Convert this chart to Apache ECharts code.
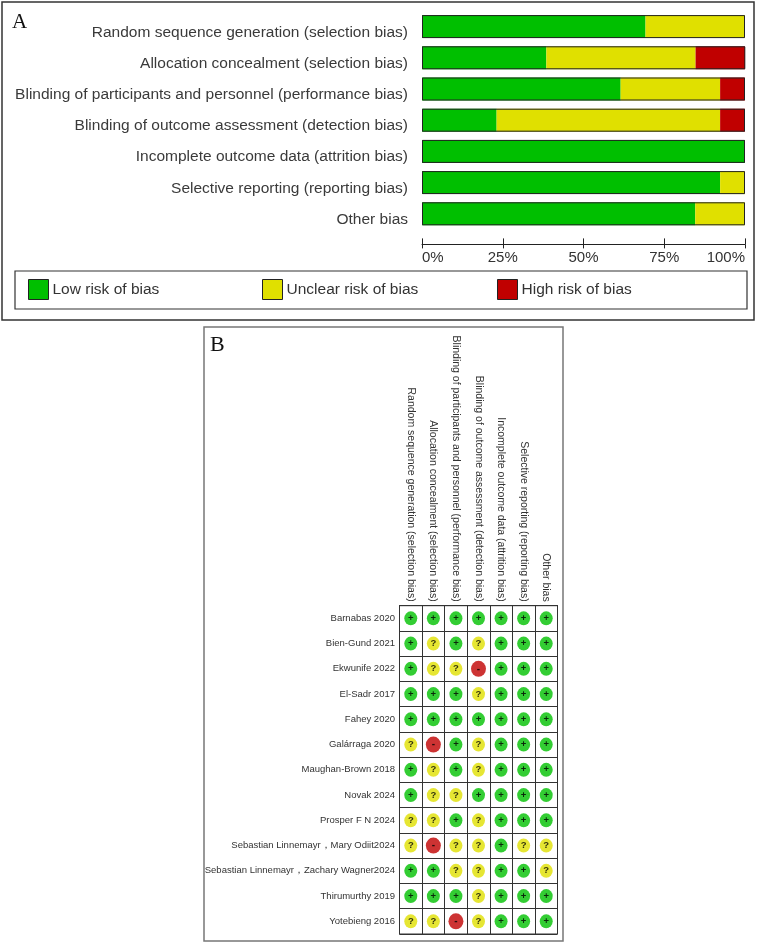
<!DOCTYPE html>
<html>
<head>
<meta charset="utf-8">
<script src="https://cdn.jsdelivr.net/npm/echarts@6/dist/echarts.min.js"></script>
<style>
  html, body { margin: 0; padding: 0; background: #fff; }
  #chart { width: 760px; height: 944px; }
</style>
</head>
<body>
<div id="chart"></div>
<script>
// risk of bias domains (same order in both panels)
const domains = [
  "Random sequence generation (selection bias)",
  "Allocation concealment (selection bias)",
  "Blinding of participants and personnel (performance bias)",
  "Blinding of outcome assessment (detection bias)",
  "Incomplete outcome data (attrition bias)",
  "Selective reporting (reporting bias)",
  "Other bias"
];

// panel A: percent of studies per judgement
const lowPct = [69.2, 38.5, 61.5, 23.1, 100, 92.3, 84.6];
const unclearPct = [30.8, 46.2, 30.8, 69.2, 0, 7.7, 15.4];
const highPct = [0, 15.4, 7.7, 7.7, 0, 0, 0];
const pctTicks = [0, 25, 50, 75, 100];

// panel B: judgement per study, one entry per domain
const studies = [
  "Barnabas 2020",
  "Bien-Gund 2021",
  "Ekwunife 2022",
  "El-Sadr 2017",
  "Fahey 2020",
  "Galárraga 2020",
  "Maughan-Brown 2018",
  "Novak 2024",
  "Prosper F N 2024",
  "Sebastian Linnemayr，Mary Odiit2024",
  "Sebastian Linnemayr，Zachary Wagner2024",
  "Thirumurthy 2019",
  "Yotebieng 2016"
];
const judgements = [
  ["+", "+", "+", "+", "+", "+", "+"],
  ["+", "?", "+", "?", "+", "+", "+"],
  ["+", "?", "?", "-", "+", "+", "+"],
  ["+", "+", "+", "?", "+", "+", "+"],
  ["+", "+", "+", "+", "+", "+", "+"],
  ["?", "-", "+", "?", "+", "+", "+"],
  ["+", "?", "+", "?", "+", "+", "+"],
  ["+", "?", "?", "+", "+", "+", "+"],
  ["?", "?", "+", "?", "+", "+", "+"],
  ["?", "-", "?", "?", "+", "?", "?"],
  ["+", "+", "?", "?", "+", "+", "?"],
  ["+", "+", "+", "?", "+", "+", "+"],
  ["?", "?", "-", "?", "+", "+", "+"]
];

const GREEN = "#00bf00";
const YELLOW = "#e0e000";
const RED = "#c00000";
const FONT = "Liberation Sans, Arial, sans-serif";

function cellsFor(code) {
  const out = [];
  judgements.forEach((row, r) => {
    row.forEach((v, c) => {
      if (v === code) out.push([c, r]);
    });
  });
  return out;
}

const chart = echarts.init(document.getElementById("chart"), null, { renderer: "canvas" });

function dotSeries(name, code, color, size) {
  return {
    name: name,
    type: "scatter",
    xAxisIndex: 2,
    yAxisIndex: 1,
    data: cellsFor(code),
    symbol: "circle",
    symbolSize: size,
    itemStyle: { color: color },
    label: {
      show: true,
      position: "inside",
      formatter: code,
      color: "#000",
      textBorderWidth: 0,
      fontSize: code === "-" ? 10 : 9.5,
      fontWeight: "bold",
      fontFamily: FONT
    },
    silent: true
  };
}

function legendAt(left, name) {
  return {
    left: left,
    top: 279,
    padding: 0,
    data: [name],
    icon: "rect",
    itemWidth: 20,
    itemHeight: 20,
    itemStyle: { borderColor: "#222", borderWidth: 1 },
    textStyle: { fontSize: 15.5, color: "#333", fontFamily: FONT, padding: [0, 0, 0, -1] },
    selectedMode: false
  };
}

const option = {
  backgroundColor: "#fff",
  animation: false,
  graphic: [
    { type: "rect", shape: { x: 2, y: 2, width: 752, height: 318 },
      style: { fill: "none", stroke: "#333", lineWidth: 1.5 } },
    { type: "rect", shape: { x: 15, y: 271, width: 732, height: 38 },
      style: { fill: "none", stroke: "#333", lineWidth: 1.2 } },
    { type: "text", left: 12, top: 12,
      style: { text: "A", font: "21px Liberation Serif, Times New Roman, serif", fill: "#111" } },
    { type: "rect", shape: { x: 204, y: 327, width: 359, height: 614 },
      style: { fill: "none", stroke: "#777", lineWidth: 1.5 } },
    { type: "text", left: 210, top: 334,
      style: { text: "B", font: "22px Liberation Serif, Times New Roman, serif", fill: "#111" } }
  ],
  legend: [
    legendAt(28, "Low risk of bias"),
    legendAt(262, "Unclear risk of bias"),
    legendAt(497, "High risk of bias")
  ],
  grid: [
    { left: 422, width: 323, top: 11, height: 218.4 },
    { left: 399.5, width: 158, top: 605.7, height: 328.3,
      show: true, borderColor: "#333", borderWidth: 1 },
    // label rows of panel A sit a little below the bar centres
    { left: 422, width: 323, top: 16.8, height: 218.4 }
  ],
  xAxis: [
    {
      gridIndex: 0, type: "value", min: 0, max: 100, interval: 25,
      position: "bottom", offset: 15,
      axisLine: { show: true, lineStyle: { color: "#222", width: 1 } },
      axisTick: { show: true, inside: false, length: 4, lineStyle: { color: "#222" } },
      axisLabel: {
        formatter: v => pctTicks.includes(v) ? v + "%" : "",
        fontSize: 15, color: "#333", fontFamily: FONT, margin: 6,
        alignMinLabel: "left", alignMaxLabel: "right"
      },
      splitLine: { show: false }
    },
    {
      gridIndex: 0, type: "value", min: 0, max: 100, interval: 25,
      position: "bottom", offset: 15,
      axisLine: { show: false },
      axisTick: { show: true, inside: true, length: 6, lineStyle: { color: "#222" } },
      axisLabel: { show: false },
      splitLine: { show: false }
    },
    {
      gridIndex: 1, type: "category", data: domains, position: "top",
      boundaryGap: true,
      axisLine: { show: true, lineStyle: { color: "#333" } },
      axisTick: { show: false },
      axisLabel: {
        rotate: 90, interval: 0, margin: 4,
        fontSize: 10.5, color: "#333", fontFamily: FONT
      },
      splitLine: { show: true, interval: 0, lineStyle: { color: "#333", width: 1 } }
    },
    {
      gridIndex: 2, type: "value", min: 0, max: 100, show: false
    }
  ],
  yAxis: [
    {
      gridIndex: 0, type: "category", data: domains, inverse: true,
      axisLine: { show: false }, axisTick: { show: false },
      axisLabel: { show: false }
    },
    {
      gridIndex: 1, type: "category", data: studies, inverse: true,
      boundaryGap: true,
      axisLine: { show: true, lineStyle: { color: "#333" } },
      axisTick: { show: false },
      axisLabel: {
        interval: 0, margin: 4.5, fontSize: 9.5, color: "#333", fontFamily: FONT
      },
      splitLine: { show: true, interval: 0, lineStyle: { color: "#333", width: 1 } }
    },
    {
      gridIndex: 2, type: "category", data: domains, inverse: true,
      axisLine: { show: false }, axisTick: { show: false },
      axisLabel: {
        interval: 0, margin: 14, fontSize: 15.5, color: "#3a3a3a", fontFamily: FONT
      }
    }
  ],
  series: [
    { name: "Low risk of bias", type: "bar", stack: "rob", xAxisIndex: 0, yAxisIndex: 0,
      data: lowPct, barWidth: 23, itemStyle: { color: GREEN }, silent: true },
    { name: "Unclear risk of bias", type: "bar", stack: "rob", xAxisIndex: 0, yAxisIndex: 0,
      data: unclearPct, barWidth: 23, itemStyle: { color: YELLOW }, silent: true },
    { name: "High risk of bias", type: "bar", stack: "rob", xAxisIndex: 0, yAxisIndex: 0,
      data: highPct, barWidth: 23, itemStyle: { color: RED }, silent: true },
    { name: "outline", type: "bar", xAxisIndex: 0, yAxisIndex: 0,
      data: lowPct.map((v, i) => v + unclearPct[i] + highPct[i]),
      barWidth: 23, barGap: "-100%", z: 5,
      itemStyle: { color: "rgba(0,0,0,0)", borderColor: "#222", borderWidth: 1 },
      silent: true },
    dotSeries("Low", "+", "#00c000", [13, 14]),
    dotSeries("Unclear", "?", YELLOW, [13, 14]),
    dotSeries("High", "-", RED, [15, 16])
  ]
};

chart.setOption(option);
</script>
</body>
</html>
